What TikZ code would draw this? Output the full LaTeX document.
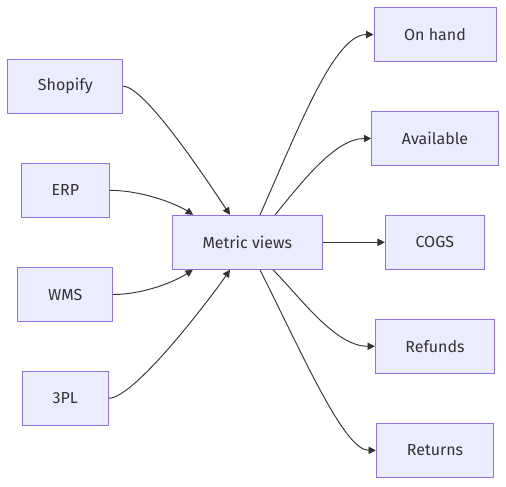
\documentclass[tikz,border=0pt]{standalone}
\usepackage{fontspec}
\setmainfont{Fira Sans}
\usetikzlibrary{arrows.meta,calc}
\definecolor{nodefill}{HTML}{ECECFF}
\definecolor{nodeline}{HTML}{9370DB}
\definecolor{ink}{HTML}{333333}
\begin{document}
\begin{tikzpicture}[x=0.75pt,y=-0.75pt,
  box/.style={draw=nodeline,fill=nodefill,line width=0.75pt,minimum height=40.5pt,inner sep=0pt,text=ink,font=\fontsize{12}{14}\selectfont},
  link/.style={draw=ink,line width=0.7pt,-{Triangle[length=5.5pt,width=5.5pt]}}]
\useasboundingbox[fill=white] (0,0) rectangle (506,486);
\node[box,minimum width=86.25pt] (sh) at (65.3,86.3) {Shopify};
\node[box,minimum width=65.6pt] (erp) at (65.3,190.3) {ERP};
\node[box,minimum width=71pt] (wms) at (65.3,294.5) {WMS};
\node[box,minimum width=64.3pt] (tpl) at (65.2,398.3) {3PL};
\node[box,minimum width=112.5pt] (mv) at (247.3,242.3) {Metric views};
\node[box,minimum width=91.5pt] (oh) at (435,34.5) {On hand};
\node[box,minimum width=95pt] (av) at (435,138.5) {Available};
\node[box,minimum width=74.25pt] (cogs) at (434.8,242.3) {COGS};
\node[box,minimum width=89.5pt] (rf) at (435,346.3) {Refunds};
\node[box,minimum width=88pt] (rt) at (435,450.3) {Returns};
\draw[link] (sh.east) .. controls +(22,0) and +(-20,-30) .. ($(mv.north)+(-17.3,0)$);
\draw[link] (erp.east) .. controls +(31,0) and +(-18.7,-12) .. ($(mv.north west)+(21.4,0)$);
\draw[link] (wms.east) .. controls +(30,0) and +(-18.3,12) .. ($(mv.south west)+(21,0)$);
\draw[link] (tpl.east) .. controls +(27,0) and +(-15,22) .. ($(mv.south)+(-17.3,0)$);
\draw[link] ($(mv.north)+(12.7,0)$) .. controls +(40,-90) and +(-39,0) .. (oh.west);
\draw[link] ($(mv.north)+(27.7,0)$) .. controls +(25,-30) and +(-36.7,0) .. (av.west);
\draw[link] (mv.east) -- (cogs.west);
\draw[link] ($(mv.south)+(25.7,0)$) .. controls +(27,27) and +(-40,0) .. (rf.west);
\draw[link] ($(mv.south)+(12.7,0)$) .. controls +(45,90) and +(-31.3,0) .. (rt.west);
\end{tikzpicture}
\end{document}
